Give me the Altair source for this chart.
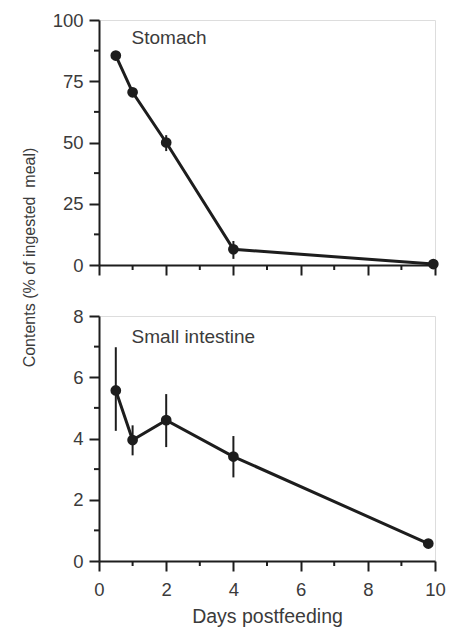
import altair as alt
import pandas as pd

# ---- data ----
stomach_days = [0.5, 1, 2, 4, 9.95]
stomach_mean = [85.5, 70.5, 50.0, 6.4, 0.4]
stomach_lo = [84.5, 69.0, 46.5, 2.5, 0.0]
stomach_hi = [86.5, 72.0, 53.0, 9.8, 0.8]

si_days = [0.5, 1, 2, 4, 9.8]
si_mean = [5.57, 3.95, 4.60, 3.41, 0.57]
si_lo = [4.25, 3.45, 3.72, 2.73, 0.50]
si_hi = [6.98, 4.43, 5.45, 4.08, 0.64]

x_major = [0, 2, 4, 6, 8, 10]
x_minor = [1, 3, 5, 7, 9]
stomach_ymajor = [0, 25, 50, 75, 100]
stomach_yminor = [12.5, 37.5, 62.5, 87.5]
si_ymajor = [0, 2, 4, 6, 8]
si_yminor = [1, 3, 5, 7]

panel_labels = ["Stomach", "Small intestine"]
label_x = [0.97, 0.97]
label_y = [92.5, 7.32]

y_title = "Contents (% of ingested\u00a0 meal)"
x_title = "Days postfeeding"

FONT = "Liberation Sans"
INK = "#1d1d1d"
TXT = "#3b3b3b"
W, H = 336, 245


def panel(days, mean, lo, hi, ymajor, yminor, ymax, lab, lx, ly, bottom):
    df = pd.DataFrame({"day": days, "mean": mean, "lo": lo, "hi": hi})
    lab_df = pd.DataFrame({"day": [lx], "mean": [ly], "text": [lab]})
    xmin_df = pd.DataFrame({"day": x_minor})
    ymin_df = pd.DataFrame({"mean": yminor})

    xaxis = alt.Axis(
        values=x_major, labels=bottom, labelFlush=False,
        tickSize=10, tickWidth=2, tickColor=INK, domainWidth=2, domainColor=INK,
        labelFont=FONT, labelFontSize=18.5, labelColor=TXT, labelPadding=9,
        grid=False,
        title=x_title if bottom else None,
        titleFont=FONT, titleFontSize=19.5, titleFontWeight="normal", titleColor=TXT,
        titlePadding=9,
    )
    yaxis_kw = dict(
        values=ymajor,
        tickSize=10, tickWidth=2, tickColor=INK, domainWidth=2, domainColor=INK,
        labelFont=FONT, labelFontSize=18.5, labelColor=TXT, labelPadding=6,
        grid=False,
    )
    if not bottom:
        yaxis = alt.Axis(
            title=y_title, titleFont=FONT, titleFontSize=16, titleFontWeight="normal",
            titleColor=TXT, titleY=237, titlePadding=15, **yaxis_kw)
    else:
        yaxis = alt.Axis(title=None, **yaxis_kw)

    xs = alt.Scale(domain=[0, 10], nice=False)
    ys = alt.Scale(domain=[0, ymax], nice=False)
    x = alt.X("day:Q", scale=xs, axis=xaxis)
    y = alt.Y("mean:Q", scale=ys, axis=yaxis)

    base = alt.Chart(df)
    err = base.mark_rule(color=INK, strokeWidth=2).encode(
        x=x, y=alt.Y("lo:Q"), y2="hi:Q")
    line = base.mark_line(color=INK, strokeWidth=3).encode(x=x, y=y)
    pts = base.mark_circle(color=INK, opacity=1, size=115).encode(x=x, y=y)
    txt = alt.Chart(lab_df).mark_text(
        align="left", baseline="middle", font=FONT, fontSize=19, color=TXT
    ).encode(x=alt.X("day:Q"), y=alt.Y("mean:Q"), text="text:N")
    xminor = alt.Chart(xmin_df).mark_rule(color=INK, strokeWidth=2).encode(
        x=alt.X("day:Q"), y=alt.value(H), y2=alt.value(H + 5))
    yminor_m = alt.Chart(ymin_df).mark_rule(color=INK, strokeWidth=2).encode(
        y=alt.Y("mean:Q"), x=alt.value(0), x2=alt.value(-5))
    return alt.layer(err, line, pts, txt, xminor, yminor_m).properties(width=W, height=H)


top = panel(stomach_days, stomach_mean, stomach_lo, stomach_hi, stomach_ymajor,
            stomach_yminor, 100, panel_labels[0], label_x[0], label_y[0], False)
bot = panel(si_days, si_mean, si_lo, si_hi, si_ymajor, si_yminor,
            8, panel_labels[1], label_x[1], label_y[1], True)

chart = alt.vconcat(top, bot, spacing=51, bounds="flush").properties(
    padding={"left": 12, "top": 2, "right": 0, "bottom": 0}
).configure_view(stroke=None).configure(background="white")

chart.save("out.html", embed_options={"renderer": "svg", "actions": False})
